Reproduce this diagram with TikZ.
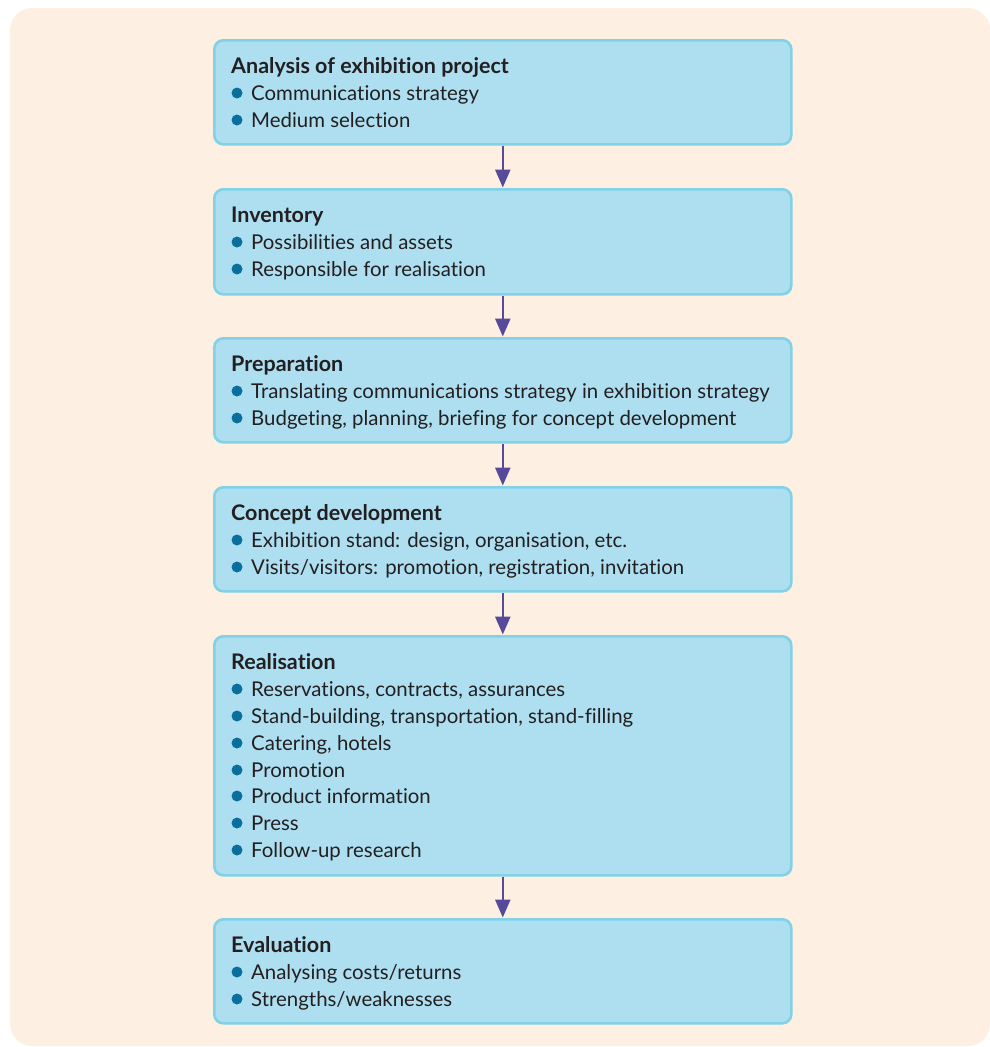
\documentclass[tikz,border=0pt]{standalone}
\usepackage{fontspec}
\setmainfont{Lato}[Ligatures=NoCommon]
\usetikzlibrary{arrows.meta}
\definecolor{bgc}{HTML}{FDF0E2}
\definecolor{boxfill}{HTML}{ADDFF0}
\definecolor{boxline}{HTML}{80D2E4}
\definecolor{arrowc}{HTML}{574A9A}
\definecolor{bulletc}{HTML}{0A6E9E}
\definecolor{txt}{HTML}{231F20}
\tikzset{
  stagebox/.style={draw=boxline, fill=boxfill, line width=2.6pt, rounded corners=9pt},
  ttl/.style={anchor=base west, inner sep=0pt, font=\fontsize{21.5}{24}\selectfont\bfseries, text=txt},
  itm/.style={anchor=base west, inner sep=0pt, font=\fontsize{20.4}{23}\selectfont, text=txt},
  blt/.style={circle, fill=bulletc, inner sep=0pt, minimum size=11pt},
  flow/.style={draw=arrowc, line width=2.6pt, -{Triangle[width=15pt,length=18pt]}, shorten >=0.5pt}
}
\begin{document}
\begin{tikzpicture}[x=1pt,y=-1pt]
\useasboundingbox (0,0) rectangle (990,1047);
\fill[bgc, rounded corners=22pt] (10,8) rectangle (990,1046);
% boxes
\node[stagebox, minimum width=577pt, minimum height=104pt, anchor=north west] (b1) at (213,39) {};
\node[stagebox, minimum width=577pt, minimum height=105pt, anchor=north west] (b2) at (213,188) {};
\node[stagebox, minimum width=577pt, minimum height=104pt, anchor=north west] (b3) at (213,337) {};
\node[stagebox, minimum width=577pt, minimum height=104pt, anchor=north west] (b4) at (213,486) {};
\node[stagebox, minimum width=577pt, minimum height=239pt, anchor=north west] (b5) at (213,635) {};
\node[stagebox, minimum width=577pt, minimum height=104pt, anchor=north west] (b6) at (213,918) {};
% arrows
\foreach \a/\b in {b1/b2,b2/b3,b3/b4,b4/b5,b5/b6}{
  \draw[flow] (\a.south) -- (\b.north);
}
% text
\newcommand{\stagetext}[3]{%
  \node[ttl] (t#1) at (231,#2+34) {#3};}
\newcommand{\stageitem}[3]{%
  \node[blt] (d#1) at (237,#2-7) {};
  \node[itm] (i#1) at (251,#2) {#3};}
\stagetext{1}{39}{Analysis of exhibition project}
\stageitem{11}{100}{Communications strategy}
\stageitem{12}{127}{Medium selection}
\stagetext{2}{188}{Inventory}
\stageitem{21}{249}{Possibilities and assets}
\stageitem{22}{276}{Responsible for realisation}
\stagetext{3}{337}{Preparation}
\stageitem{31}{398}{Translating communications strategy in exhibition strategy}
\stageitem{32}{425}{Budgeting, planning, briefing for concept development}
\stagetext{4}{486}{Concept development}
\stageitem{41}{547}{Exhibition stand: design, organisation, etc.}
\stageitem{42}{574}{Visits/visitors: promotion, registration, invitation}
\stagetext{5}{635}{Realisation}
\stageitem{51}{696}{Reservations, contracts, assurances}
\stageitem{52}{723}{Stand-building, transportation, stand-filling}
\stageitem{53}{750}{Catering, hotels}
\stageitem{54}{777}{Promotion}
\stageitem{55}{803}{Product information}
\stageitem{56}{830}{Press}
\stageitem{57}{857}{Follow-up research}
\stagetext{6}{918}{Evaluation}
\stageitem{61}{979}{Analysing costs/returns}
\stageitem{62}{1006}{Strengths/weaknesses}
\end{tikzpicture}
\end{document}
